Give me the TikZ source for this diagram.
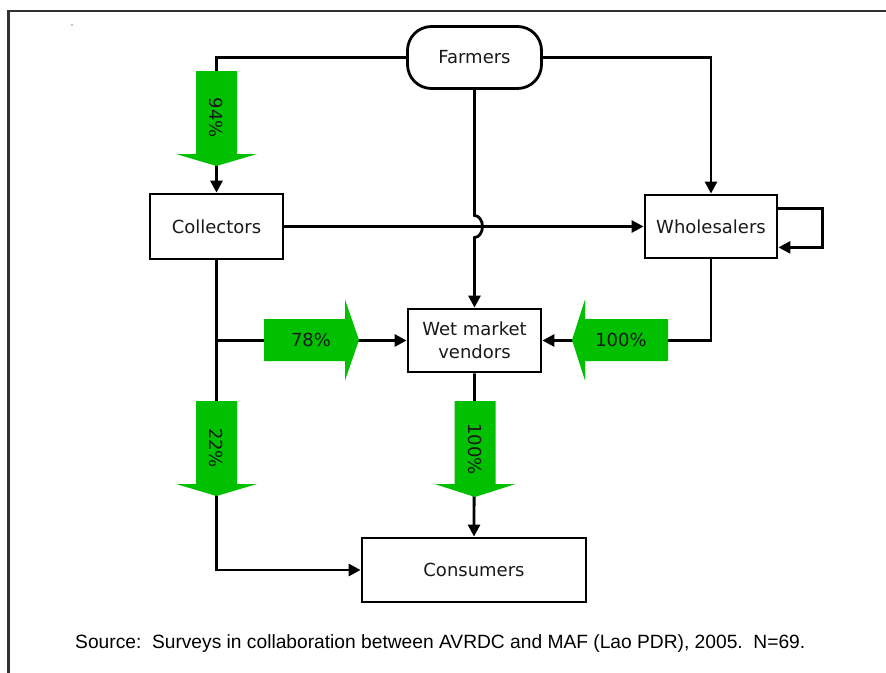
\documentclass[tikz,border=0pt]{standalone}
\usepackage{fontspec}
\setmainfont{DejaVu Sans}
\newfontfamily\notefont{Liberation Sans}
\usetikzlibrary{arrows.meta,calc}

\definecolor{flowgreen}{RGB}{0,192,0}
\definecolor{framegray}{RGB}{50,50,50}
\definecolor{inkgray}{RGB}{25,25,25}

\tikzset{
  stage/.style={draw=black, line width=2.8pt, fill=white, inner sep=0pt,
    align=center, text=inkgray, font=\fontsize{18}{22.5}\selectfont},
  wire/.style={line width=2.8pt, black},
  link/.style={wire, -{Triangle[length=12pt,width=12pt]}},
  flow/.style={fill=flowgreen},
  share/.style={text=inkgray, font=\fontsize{18}{22}\selectfont, inner sep=0pt}
}

% block arrow pointing down: x centre, shaft top, head base, tip
\newcommand\flowdown[4]{%
  \fill[flow] (#1-20.5,#2) -- (#1+20.5,#2) -- (#1+20.5,#3) -- (#1+40.5,#3)
    -- (#1,#4) -- (#1-40.5,#3) -- (#1-20.5,#3) -- cycle;}
% block arrow pointing sideways: y centre, shaft end, head base, tip
\newcommand\flowside[4]{%
  \fill[flow] (#2,#1-21) -- (#3,#1-21) -- (#3,#1-40.5) -- (#4,#1)
    -- (#3,#1+40.5) -- (#3,#1+21) -- (#2,#1+21) -- cycle;}

\begin{document}
\begin{tikzpicture}[x=1pt, y=-1pt]
  \useasboundingbox (0,0) rectangle (886,672);
  \fill[white] (0,0) rectangle (886,672);
  \begin{scope}
    \clip (0,0) rectangle (886,672);
    \draw[framegray, line width=2.2pt] (8.5,11) rectangle (900,700);
  \end{scope}
  \fill[black] (72,25) circle (0.7pt);

  % stages of the chain
  \node[stage, minimum width=134pt, minimum height=62pt, rounded corners=24pt]
    (farm) at (474.5,57.5) {Farmers};
  \node[stage, minimum width=133pt, minimum height=65pt] (coll) at (216.5,226.5) {Collectors};
  \node[stage, minimum width=132pt, minimum height=63pt] (whole) at (711,226.5) {Wholesalers};
  \node[stage, minimum width=133pt, minimum height=63pt] (wet) at (474.5,340.5) {Wet market\\vendors};
  \node[stage, minimum width=224pt, minimum height=64pt] (cons) at (474,570) {Consumers};

  % connectors
  \draw[link] (farm.west) -| (coll.north);
  \draw[link] (farm.east) -| (whole.north);
  \draw[link] (coll.east) -- (whole.west);
  \coordinate (hop) at (farm.south |- coll.east);
  \draw[link] (farm.south) -- ([yshift=11pt]hop)
    arc[start angle=90, end angle=-90, x radius=8pt, y radius=11pt]
    -- (wet.north);
  \coordinate (loopout) at ($(whole.north east)+(0,15)$);
  \coordinate (loopin) at ($(whole.south east)+(0,-12)$);
  \draw[link] (loopout) -- ++(44,0) |- (loopin);
  \draw[link] (coll.south) |- (cons.west);
  \coordinate (split) at (coll.south |- wet.west);
  \draw[link] (split) -- (wet.west);
  \draw[link] (whole.south) |- (wet.east);
  \draw[link] (wet.south) -- (cons.north);

  % flow shares
  \flowdown{216.5}{71}{154}{166}
  \flowdown{216.5}{401}{484}{496}
  \flowdown{475}{401}{484}{497}
  \flowside{340}{264}{345}{359}
  \flowside{340}{668}{585}{572}
  \node[share, rotate=-90] (s94) at (216.5,118) {94\%};
  \node[share, rotate=-90] (s22) at (216.5,448) {22\%};
  \node[share, rotate=-90] (s100d) at (475,449) {100\%};
  \node[share] (s78) at (311,340) {78\%};
  \node[share] (s100l) at (621,340) {100\%};

  % source line
  \node[anchor=base west, inner sep=0pt, text=black,
    font=\notefont\fontsize{19.2}{23}\selectfont] (src) at (75,648)
    {Source:\ \ Surveys in collaboration between AVRDC and MAF (Lao PDR), 2005.\ \ N=69.};
\end{tikzpicture}
\end{document}
